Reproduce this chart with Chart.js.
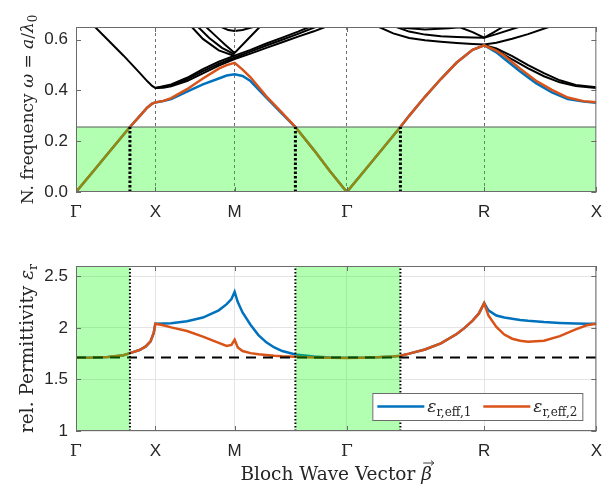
<!DOCTYPE html>
<html>
<head>
<meta charset="utf-8">
<script src="https://cdn.jsdelivr.net/npm/chart.js@4.4.0/dist/chart.umd.min.js"></script>
<style>
  body { margin: 0; background: #fff; }
  #wrap { position: relative; width: 612px; height: 495px; }
  canvas { position: absolute; left: 0; }
</style>
</head>
<body>
<div id="wrap">
  <canvas id="bandChart" width="612" height="235" style="top:0"></canvas>
  <canvas id="epsChart" width="612" height="260" style="top:235px"></canvas>
</div>
<script>
// path Γ-X-M-Γ-R-X, position in units of 2π/a
const symPos = [0, 0.5, 1.0, 1.7071, 2.5731, 3.2802];
const symLabels = ['Γ', 'X', 'M', 'Γ', 'R', 'X'];
const freqTicks = [0, 0.2, 0.4, 0.6];
const epsTicks = [1, 1.5, 2, 2.5];
const lightCross = [0.34, 1.383, 2.045];
const lightFreq = 0.256;
const epsHost = 1.713;

// two lowest bands
const bandK = [0, 0.1, 0.2, 0.34, 0.4, 0.45, 0.48, 0.5, 0.55, 0.6, 0.7, 0.8, 0.9, 0.95, 1.0, 1.05, 1.1, 1.2, 1.3, 1.383, 1.5, 1.6, 1.7071,
  1.8, 1.9, 2.045, 2.1, 2.2, 2.3, 2.4, 2.5, 2.5731, 2.65, 2.7, 2.8, 2.9, 3.0, 3.1, 3.2, 3.2802];
const band1 = [0, 0.075, 0.151, 0.256, 0.298, 0.333, 0.348, 0.353, 0.358, 0.366, 0.395, 0.424, 0.447, 0.459, 0.464, 0.457, 0.437, 0.372, 0.308, 0.256, 0.165, 0.083, 0,
  0.07, 0.146, 0.256, 0.30, 0.375, 0.445, 0.51, 0.56, 0.578, 0.55, 0.525, 0.475, 0.429, 0.392, 0.366, 0.356, 0.352];
const band2 = [0, 0.075, 0.151, 0.256, 0.298, 0.333, 0.348, 0.353, 0.359, 0.37, 0.405, 0.447, 0.486, 0.5, 0.509, 0.482, 0.452, 0.377, 0.312, 0.256, 0.165, 0.083, 0,
  0.07, 0.146, 0.256, 0.30, 0.375, 0.445, 0.51, 0.56, 0.578, 0.557, 0.537, 0.486, 0.438, 0.402, 0.372, 0.358, 0.354];

// higher bands (black)
const hb1K = [0.12, 0.2, 0.3, 0.4, 0.45, 0.48, 0.5, 0.55, 0.6, 0.7, 0.8, 0.9, 1.0, 1.1, 1.2, 1.3, 1.4, 1.5, 1.57];
const hb1W = [0.65, 0.6, 0.537, 0.47, 0.436, 0.418, 0.41, 0.411, 0.416, 0.437, 0.467, 0.498, 0.524, 0.545, 0.568, 0.59, 0.612, 0.633, 0.65];
const hb2K = [0.5, 0.6, 0.7, 0.8, 0.9, 1.0, 1.1, 1.2, 1.3, 1.4, 1.51];
const hb2W = [0.41, 0.42, 0.444, 0.476, 0.505, 0.53, 0.553, 0.577, 0.6, 0.623, 0.65];
const hb3K = [0.5, 0.6, 0.7, 0.8, 0.9, 1.0, 1.1, 1.2, 1.3, 1.4, 1.47];
const hb3W = [0.41, 0.424, 0.45, 0.484, 0.513, 0.537, 0.56, 0.585, 0.608, 0.632, 0.65];
const hb4K = [0.73, 0.8, 0.9, 1.0];
const hb4W = [0.65, 0.603, 0.558, 0.536];
const hb5K = [0.77, 0.84, 0.92, 1.0];
const hb5W = [0.65, 0.607, 0.568, 0.542];
const hb6K = [0.82, 0.88, 0.94, 1.0, 1.08, 1.158];
const hb6W = [0.65, 0.615, 0.58, 0.548, 0.6, 0.65];
const hb7K = [0.917, 0.96, 1.0, 1.05, 1.116];
const hb7W = [0.65, 0.638, 0.634, 0.638, 0.65];
const hr1K = [1.91, 2.0, 2.1, 2.2, 2.3, 2.4, 2.5, 2.5731, 2.65, 2.75, 2.85, 2.98];
const hr1W = [0.65, 0.625, 0.607, 0.598, 0.592, 0.587, 0.583, 0.581, 0.588, 0.604, 0.622, 0.65];
const hr2K = [2.02, 2.1, 2.2, 2.3, 2.4, 2.5, 2.5731, 2.65, 2.79];
const hr2W = [0.65, 0.632, 0.62, 0.614, 0.611, 0.609, 0.608, 0.622, 0.65];
const hr3K = [2.06, 2.2, 2.35, 2.42, 2.5, 2.5731, 2.63, 2.69];
const hr3W = [0.647, 0.64, 0.645, 0.649, 0.63, 0.608, 0.628, 0.65];
const hxK = [2.5731, 2.65, 2.75, 2.85, 2.95, 3.05, 3.15, 3.2802];
const hx1W = [0.578, 0.56, 0.522, 0.487, 0.456, 0.432, 0.418, 0.41];
const hx2W = [0.578, 0.566, 0.535, 0.5, 0.468, 0.44, 0.422, 0.413];

// effective permittivity
const epsK = [0, 0.1, 0.2, 0.3, 0.34, 0.4, 0.44, 0.47, 0.49, 0.5, 0.55, 0.6, 0.7, 0.8, 0.9, 0.95, 0.98, 1.0, 1.02, 1.05,
  1.1, 1.15, 1.2, 1.25, 1.3, 1.383, 1.5, 1.6, 1.7071, 1.8, 1.9, 2.0, 2.045, 2.1, 2.2, 2.3, 2.4, 2.45, 2.5, 2.54, 2.5731,
  2.6, 2.65, 2.7, 2.75, 2.8, 2.85, 2.95, 3.05, 3.15, 3.22, 3.2802];
const eps1 = [1.71, 1.712, 1.718, 1.735, 1.755, 1.785, 1.82, 1.87, 1.95, 2.04, 2.042, 2.045, 2.065, 2.1, 2.17, 2.23, 2.28, 2.35, 2.25, 2.15,
  2.03, 1.93, 1.86, 1.81, 1.775, 1.742, 1.722, 1.713, 1.71, 1.711, 1.714, 1.722, 1.73, 1.75, 1.79, 1.85, 1.94, 2.0, 2.07, 2.14, 2.24,
  2.17, 2.12, 2.1, 2.088, 2.077, 2.068, 2.056, 2.048, 2.043, 2.041, 2.04];
const eps2 = [1.71, 1.712, 1.718, 1.735, 1.755, 1.785, 1.82, 1.87, 1.95, 2.04, 2.025, 2.005, 1.97, 1.915, 1.855, 1.825, 1.835, 1.885, 1.81, 1.775,
  1.755, 1.745, 1.737, 1.73, 1.725, 1.72, 1.713, 1.71, 1.708, 1.711, 1.714, 1.722, 1.73, 1.75, 1.79, 1.85, 1.94, 2.0, 2.07, 2.14, 2.24,
  2.12, 2.01, 1.935, 1.895, 1.875, 1.865, 1.875, 1.92, 1.985, 2.025, 2.04];

const BLUE = '#0072BD';
const ORANGE = '#D95319';
const GREEN = 'rgba(0,255,0,0.3)';
const SERIF = 'DejaVu Serif';
const SANS = 'Liberation Sans';
const kMax = symPos[symPos.length - 1];

const pts = (ks, ys) => ks.map((k, i) => ({ x: k, y: ys[i] }));
const line = (data, color, width, order, extra) => Object.assign({
  data, borderColor: color, borderWidth: width, pointRadius: 0, fill: false, tension: 0, order, clip: 0
}, extra || {});

const drawRich = (ctx, parts, x, y, rot) => {
  ctx.save();
  ctx.translate(x, y);
  ctx.rotate(rot);
  ctx.fillStyle = '#262626';
  ctx.strokeStyle = '#262626';
  ctx.textBaseline = 'alphabetic';
  let w = 0;
  parts.forEach(p => { ctx.font = p.f; w += ctx.measureText(p.t).width; });
  let cx = -w / 2;
  parts.forEach(p => {
    ctx.font = p.f;
    const pw = ctx.measureText(p.t).width;
    ctx.fillText(p.t, cx, p.dy || 0);
    if (p.arrow) {
      const ay = -17;
      ctx.lineWidth = 0.9;
      ctx.beginPath();
      ctx.moveTo(cx + 2, ay); ctx.lineTo(cx + pw + 2, ay);
      ctx.moveTo(cx + pw - 1, ay - 2.5); ctx.lineTo(cx + pw + 2, ay); ctx.lineTo(cx + pw - 1, ay + 2.5);
      ctx.stroke();
    }
    cx += pw;
  });
  ctx.restore();
};

const fnt = (size, italic) => (italic ? 'italic ' : '') + size + 'px "' + SERIF + '"';

const framePlugin = (extra) => ({
  id: 'frame',
  afterDraw(chart) {
    const { ctx, chartArea: a, scales: { x, y } } = chart;
    ctx.save();
    ctx.strokeStyle = '#6b6b6b';
    ctx.lineWidth = 1;
    ctx.beginPath();
    symPos.forEach(v => {
      const px = Math.round(x.getPixelForValue(v)) + 0.5;
      ctx.moveTo(px, a.bottom); ctx.lineTo(px, a.bottom - 5);
      ctx.moveTo(px, a.top); ctx.lineTo(px, a.top + 5);
    });
    y.ticks.forEach(t => {
      const py = Math.round(y.getPixelForValue(t.value)) + 0.5;
      ctx.moveTo(a.left, py); ctx.lineTo(a.left + 5, py);
      ctx.moveTo(a.right, py); ctx.lineTo(a.right - 5, py);
    });
    ctx.stroke();
    ctx.strokeRect(a.left + 0.5, a.top + 0.5, a.right - a.left - 1, a.bottom - a.top - 1);
    ctx.restore();
    extra(chart);
  }
});

const xScale = (gridOpts) => ({
  type: 'linear', min: 0, max: kMax,
  afterBuildTicks: s => { s.ticks = symPos.map(v => ({ value: v })); },
  afterFit: s => { s.height = gridOpts.h; },
  ticks: {
    padding: 10, color: '#262626',
    font: c => ({ family: symLabels[c.index] === 'Γ' ? SERIF : SANS, size: 17 }),
    callback: (v, i) => symLabels[i]
  },
  grid: gridOpts.grid,
  border: gridOpts.border
});

const baseOptions = (x, y, pad) => ({
  responsive: false, animation: false, devicePixelRatio: 1,
  layout: { padding: pad },
  plugins: { legend: { display: false }, tooltip: { enabled: false }, filler: { drawTime: 'beforeDatasetDraw' } },
  scales: { x, y }
});

// ---------- band diagram ----------
const upper = [[hb1K, hb1W], [hb2K, hb2W], [hb3K, hb3W], [hb4K, hb4W], [hb5K, hb5W], [hb6K, hb6W], [hb7K, hb7W],
  [hr1K, hr1W], [hr2K, hr2W], [hr3K, hr3W], [hxK, hx1W], [hxK, hx2W]];

const bandSets = upper.map(([k, w]) => line(pts(k, w), '#000', 2, 6));
bandSets.push(line(pts(bandK, band1), BLUE, 2.5, 5));
bandSets.push(line(pts(bandK, band2), ORANGE, 2.5, 4));
bandSets.push(line(pts([0, kMax], [lightFreq, lightFreq]), '#5a5a5a', 1, 3, { fill: 'start', backgroundColor: GREEN }));
lightCross.forEach(c => bandSets.push(line(pts([c, c], [0, lightFreq]), '#000', 3, 1, { borderDash: [2.5, 2] })));

new Chart(document.getElementById('bandChart'), {
  type: 'line',
  data: { datasets: bandSets },
  options: baseOptions(
    xScale({
      h: 43,
      grid: { drawTicks: false, lineWidth: 0.8, color: c => (c.index === 0 || c.index === symPos.length - 1) ? 'rgba(0,0,0,0)' : '#4a4a4a' },
      border: { display: false, dash: [3, 3] }
    }),
    {
      type: 'linear', min: 0, max: 0.65,
      afterBuildTicks: s => { s.ticks = freqTicks.map(v => ({ value: v })); },
      afterFit: s => { s.width = 76; },
      ticks: { padding: 8, color: '#262626', font: { family: SANS, size: 17 }, callback: v => v.toFixed(1) },
      grid: { display: false, drawTicks: false },
      border: { display: false }
    },
    { left: 0, right: 15, top: 27, bottom: 0 }
  ),
  plugins: [framePlugin(chart => {
    const a = chart.chartArea;
    drawRich(chart.ctx, [
      { t: 'N. frequency ', f: fnt(17) }, { t: 'ω', f: fnt(17, true) }, { t: ' = ', f: fnt(17) },
      { t: 'a', f: fnt(17, true) }, { t: '/', f: fnt(17) }, { t: 'λ', f: fnt(17, true) }, { t: '0', f: fnt(12), dy: 4 }
    ], 33, (a.top + a.bottom) / 2, -Math.PI / 2);
  })]
});

// ---------- effective permittivity ----------
const epsSets = [
  line(pts(epsK, eps1), BLUE, 2.5, 6),
  line(pts(epsK, eps2), ORANGE, 2.5, 5),
  line(pts([0, kMax], [epsHost, epsHost]), '#000', 2, 4, { borderDash: [10, 7] }),
  line(pts([symPos[0], lightCross[0]], [2.6, 2.6]), 'rgba(0,0,0,0)', 0, 3, { fill: 'start', backgroundColor: GREEN }),
  line(pts([lightCross[1], lightCross[2]], [2.6, 2.6]), 'rgba(0,0,0,0)', 0, 3, { fill: 'start', backgroundColor: GREEN })
];
lightCross.forEach(c => epsSets.push(line(pts([c, c], [1, 2.6]), '#000', 2, 1, { borderDash: [1.5, 2] })));

new Chart(document.getElementById('epsChart'), {
  type: 'line',
  data: { datasets: epsSets },
  options: baseOptions(
    xScale({
      h: 64,
      grid: { drawTicks: false, lineWidth: 1, color: '#e4e4e4' },
      border: { display: false }
    }),
    {
      type: 'linear', min: 1, max: 2.6,
      afterBuildTicks: s => { s.ticks = epsTicks.map(v => ({ value: v })); },
      afterFit: s => { s.width = 76; },
      ticks: { padding: 8, color: '#262626', font: { family: SANS, size: 17 }, callback: v => String(v) },
      grid: { drawTicks: false, lineWidth: 1, color: '#e4e4e4' },
      border: { display: false }
    },
    { left: 0, right: 15, top: 31, bottom: 0 }
  ),
  plugins: [framePlugin(chart => {
    const { ctx, chartArea: a } = chart;
    drawRich(ctx, [
      { t: 'rel. Permittivity ', f: fnt(18.5) }, { t: 'ε', f: fnt(18.5, true) }, { t: 'r', f: fnt(12.5), dy: 4 }
    ], 33, (a.top + a.bottom) / 2, -Math.PI / 2);
    drawRich(ctx, [
      { t: 'Bloch Wave Vector ', f: fnt(18.5) }, { t: 'β', f: fnt(18.5, true), arrow: true }
    ], (a.left + a.right) / 2, a.bottom + 49, 0);

    // legend
    const lx = a.right - 224, ly = a.bottom - 38, lw = 210, lh = 27, my = ly + lh / 2;
    ctx.save();
    ctx.fillStyle = '#fff';
    ctx.fillRect(lx, ly, lw, lh);
    ctx.strokeStyle = '#6b6b6b';
    ctx.lineWidth = 1;
    ctx.strokeRect(lx + 0.5, ly + 0.5, lw, lh);
    [[BLUE, 5, '1'], [ORANGE, 111, '2']].forEach(([col, off, n]) => {
      ctx.strokeStyle = col;
      ctx.lineWidth = 2.5;
      ctx.beginPath();
      ctx.moveTo(lx + off, my); ctx.lineTo(lx + off + 47, my);
      ctx.stroke();
      ctx.font = fnt(17, true);
      ctx.fillStyle = '#262626';
      ctx.textBaseline = 'alphabetic';
      ctx.fillText('ε', lx + off + 50, my + 5);
      const ew = ctx.measureText('ε').width;
      ctx.font = fnt(12);
      ctx.fillText('r,eff,' + n, lx + off + 50 + ew, my + 9);
    });
    ctx.restore();
  })]
});
</script>
</body>
</html>
